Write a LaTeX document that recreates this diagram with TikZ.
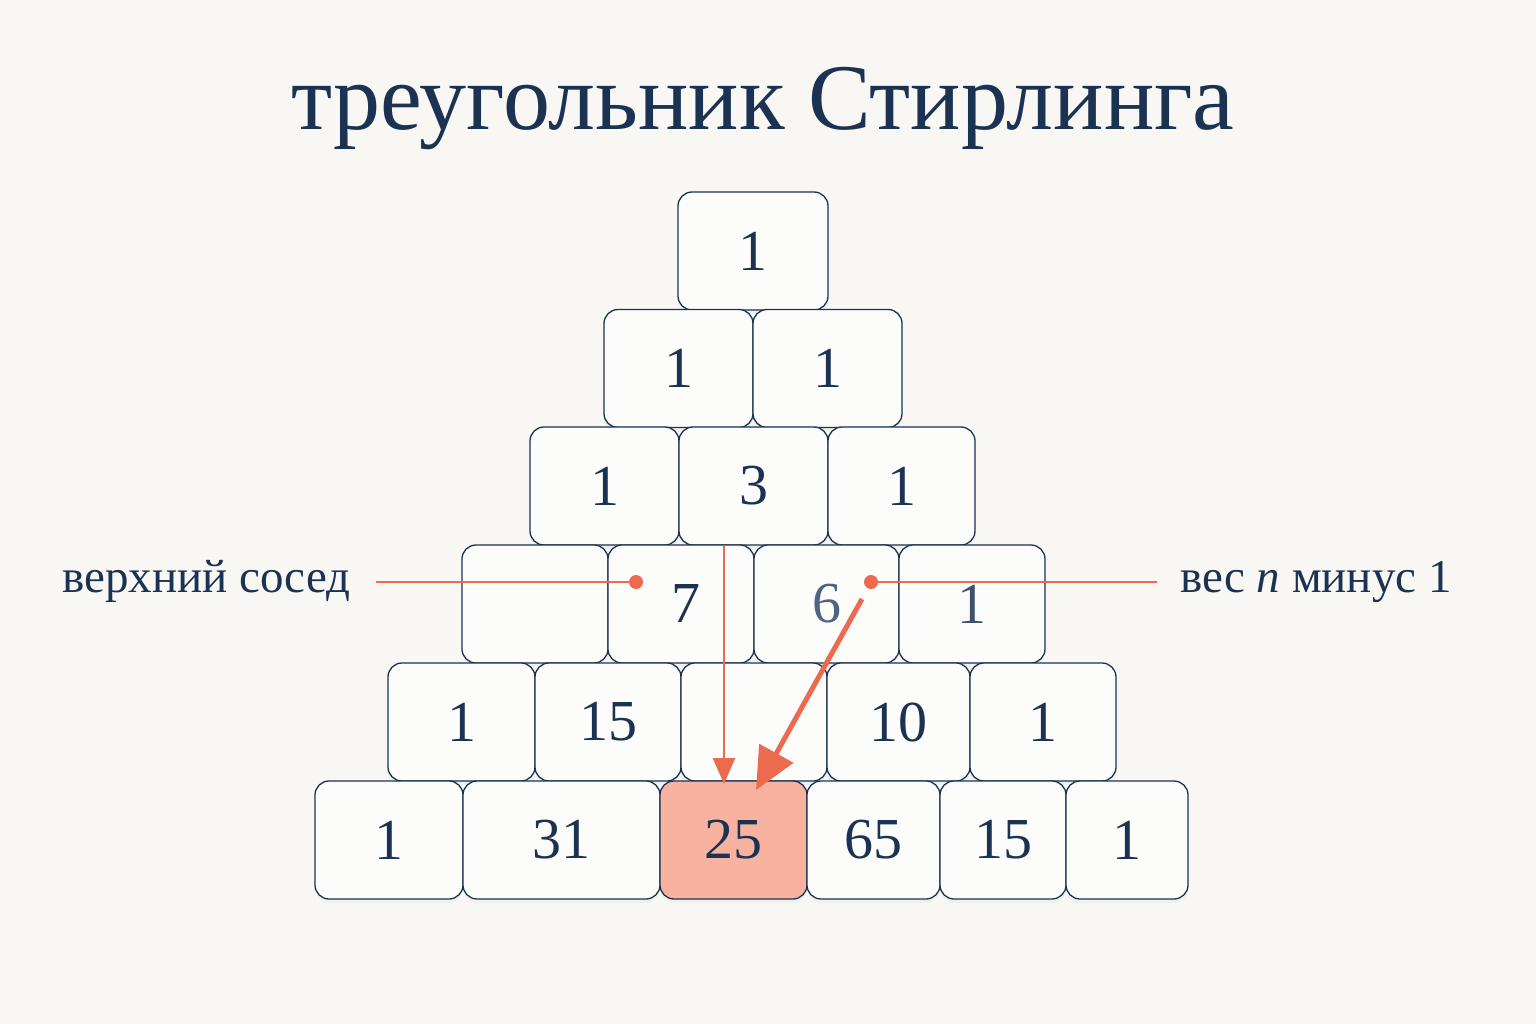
\documentclass[tikz,border=0pt]{standalone}
\usepackage{fontspec}
\setmainfont{Liberation Serif}
\usetikzlibrary{arrows.meta,shadows,calc}
\definecolor{bg}{HTML}{F8F7F4}
\definecolor{navy}{HTML}{1B3252}
\definecolor{slate}{HTML}{4E6480}
\definecolor{coral}{HTML}{EC6A4E}
\definecolor{salmon}{HTML}{F8B3A0}
\definecolor{cellfill}{HTML}{FCFCFB}
\tikzset{
  cell/.style={draw=navy, line width=1.3pt, fill=cellfill, rounded corners=14pt,
    minimum height=118pt, inner sep=0pt, outer sep=0pt, text=navy,
    font=\fontsize{58}{60}\selectfont,
    drop shadow={opacity=0.06, shadow xshift=0pt, shadow yshift=-4pt}},
  hot/.style={cell, fill=salmon},
  lbl/.style={text=navy, font=\fontsize{47}{50}\selectfont, inner sep=0pt, anchor=base west},
  lead/.style={draw=coral, line width=2.4pt},
  dot/.style={circle, fill=coral, minimum size=14pt, inner sep=0pt},
  thinarr/.style={draw=coral, line width=2.4pt, -{Triangle[length=26pt, width=22pt]}},
  thickarr/.style={draw=coral, line width=5pt, -{Triangle[length=42pt, width=38pt]}}
}
\begin{document}
\begin{tikzpicture}[x=1pt, y=-1pt]
\fill[bg] (0,0) rectangle (1536,1024);
\useasboundingbox (0,0) rectangle (1536,1024);
% title
\node[text=navy, font=\fontsize{94}{98}\selectfont, anchor=base, inner sep=0pt] (title) at (763,130) {треугольник Стирлинга};
% row 1
\node[cell, minimum width=150pt] (r1c1) at (753,251) {1};
% row 2
\node[cell, minimum width=149pt] (r2c1) at (678.5,368.5) {1};
\node[cell, minimum width=149pt] (r2c2) at (827.5,368.5) {1};
% row 3
\node[cell, minimum width=149pt] (r3c1) at (604.5,486) {1};
\node[cell, minimum width=149pt] (r3c2) at (753.5,486) {3};
\node[cell, minimum width=147pt] (r3c3) at (901.5,486) {1};
% row 4
\node[cell, minimum width=146pt] (r4c1) at (535,604) {};
\node[cell, minimum width=146pt] (r4c2) at (681,604) {\hspace*{10pt}7};
\node[cell, minimum width=145pt, text=slate] (r4c3) at (826.5,604) {6};
\node[cell, minimum width=146pt, text=navy!85] (r4c4) at (972,604) {1};
% row 5
\node[cell, minimum width=147pt] (r5c1) at (461.5,722) {1};
\node[cell, minimum width=146pt] (r5c2) at (608,722) {15};
\node[cell, minimum width=146pt] (r5c3) at (754,722) {};
\node[cell, minimum width=143pt] (r5c4) at (898.5,722) {10};
\node[cell, minimum width=146pt] (r5c5) at (1043,722) {1};
% row 6
\node[cell, minimum width=148pt] (r6c1) at (389,840) {1};
\node[cell, minimum width=197pt] (r6c2) at (561.5,840) {31};
\node[hot, minimum width=147pt] (r6c3) at (733.5,840) {25};
\node[cell, minimum width=133pt] (r6c4) at (873.5,840) {65};
\node[cell, minimum width=126pt] (r6c5) at (1003,840) {15};
\node[cell, minimum width=122pt] (r6c6) at (1127,840) {1};
% labels
\node[lbl] (lblL) at (62,592) {верхний сосед};
\node[lbl] (lblR) at (1180,592) {вес \textit{n} минус 1};
\coordinate (leadLstart) at (376,582);
\coordinate (leadRend) at (1157,582);
\node[dot] (dotL) at (636,582) {};
\node[dot] (dotR) at (871,582) {};
\draw[lead] (leadLstart) -- (dotL.center);
\draw[lead] (dotR.center) -- (leadRend);
% arrows
\coordinate (vstart) at (724,546);
\coordinate (vend) at (724,784);
\draw[thinarr] (vstart) -- (vend);
\coordinate (dstart) at (862,599);
\coordinate (dend) at (756,790);
\draw[thickarr] (dstart) -- (dend);
\end{tikzpicture}
\end{document}
